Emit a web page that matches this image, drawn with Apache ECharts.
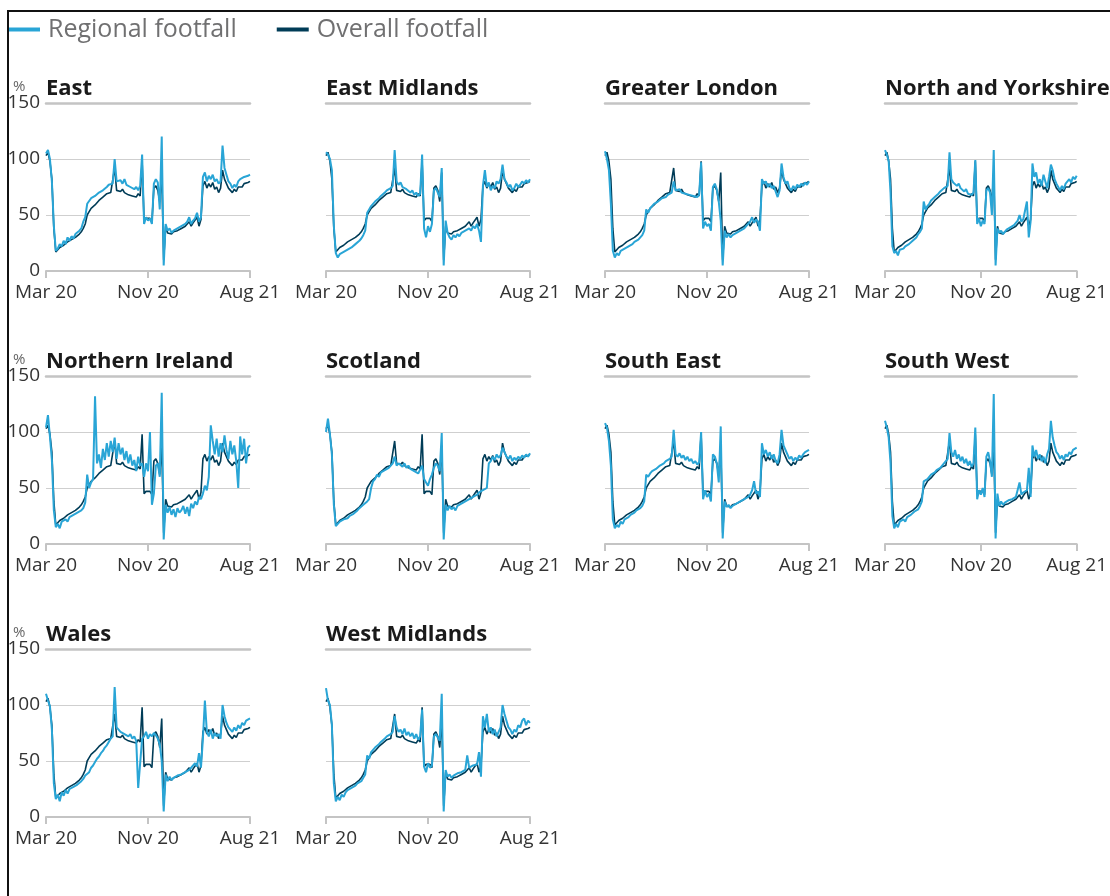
<!DOCTYPE html>
<html><head><meta charset="utf-8">
<script src="https://cdn.jsdelivr.net/npm/echarts/dist/echarts.min.js"></script>
<style>
html,body{margin:0;padding:0;background:#fff;overflow:hidden;}
#chart{position:absolute;left:0;top:0;width:1110px;height:896px;}
#frame{position:absolute;left:7px;top:10px;width:1120px;height:900px;border-top:2px solid #111;border-left:2px solid #111;pointer-events:none;}
</style>
</head><body><div id="chart"></div><div id="frame"></div>
<script>
// Panel titles
const regions = ['East','East Midlands','Greater London','North and Yorkshire','Northern Ireland','Scotland','South East','South West','Wales','West Midlands'];
// x tick labels (first, middle, last sample)
const tickLabels = ['Mar 20','Nov 20','Aug 21'];
const seriesNames = ['Regional footfall','Overall footfall'];

// Values: % of pre-pandemic footfall, one reading every 5 days from start of March 2020
const overall = [103,106,98,82,38,17,19,21,20,23,22,26,25,28,27,30,30,33,35,38,42,50,53,56,57,59,61,63,63,66,67,69,70,70,71,92,72,73,71,73,70,70,68,69,67,68,66,69,67,98,45,47,46,47,44,74,76,72,62,88,10,40,34,35,33,35,34,36,36,38,37,40,41,44,40,43,44,48,40,46,76,80,74,78,75,79,73,75,70,74,90,82,78,74,72,70,73,71,75,76,75,78,77,79,80];
const east = [105,108,100,80,40,18,20,24,22,27,24,30,27,31,29,33,32,36,38,44,48,60,61,65,64,67,68,70,69,72,73,75,77,76,78,100,80,79,81,78,82,77,78,75,76,73,75,72,76,104,42,48,45,47,42,78,82,79,55,120,5,42,36,38,34,36,35,38,37,40,39,42,44,48,42,45,47,52,44,48,84,88,80,85,82,86,80,82,78,80,112,92,86,80,78,74,77,75,80,82,81,84,83,85,86];
const eastMidlands = [106,104,100,90,40,16,12,15,14,17,16,19,18,21,20,24,23,27,29,32,36,52,55,58,60,62,61,65,67,66,70,72,71,74,76,108,80,77,79,75,76,73,74,70,72,68,70,67,69,104,38,30,40,35,42,72,74,70,66,92,5,45,34,30,28,32,30,33,31,34,33,36,35,38,36,40,38,42,36,26,76,90,75,79,72,76,74,80,78,82,95,82,79,75,77,72,74,78,75,77,80,78,81,79,82];
const greaterLondon = [107,100,90,60,18,12,16,14,18,17,20,19,22,21,24,26,25,28,30,32,36,55,52,56,58,60,59,62,63,65,64,66,68,67,70,80,72,71,73,70,71,69,70,68,69,67,68,66,68,97,38,44,40,42,36,75,78,73,62,45,5,36,30,33,30,32,31,34,33,36,35,38,40,42,44,48,43,46,44,36,82,78,80,75,78,74,76,71,66,72,96,84,78,80,74,72,76,73,77,75,78,76,79,77,80];
const northYorkshire = [108,104,98,70,22,16,18,14,19,18,20,22,21,24,23,27,26,30,33,35,38,62,55,58,60,63,62,66,67,69,71,72,74,73,76,106,82,79,80,76,78,74,75,71,73,69,70,68,70,99,42,47,40,45,42,72,74,70,50,108,5,38,34,36,33,35,37,36,39,38,41,42,45,50,44,46,47,62,30,44,96,84,88,78,82,76,86,80,74,84,95,90,82,78,75,72,76,73,78,80,82,79,84,82,85];
const northernIreland = [104,115,96,75,30,15,18,14,20,19,22,20,24,23,26,25,28,27,30,32,37,62,50,55,58,132,72,80,68,85,75,90,78,92,82,95,76,90,80,86,75,83,72,80,70,75,65,78,70,72,60,72,65,100,35,45,70,72,60,135,4,35,28,33,26,31,24,32,28,30,34,27,33,25,36,32,38,35,42,40,45,52,48,60,106,92,80,94,78,90,82,97,84,76,92,80,88,74,50,96,80,94,72,86,88];
const scotland = [100,112,98,80,35,16,18,20,19,22,21,23,25,24,27,28,30,32,31,35,34,38,40,50,56,58,62,60,64,63,66,65,68,70,72,78,70,72,71,69,72,68,70,67,68,65,66,63,64,70,58,55,52,58,62,68,72,70,65,99,4,35,30,34,31,33,30,34,33,36,35,38,37,40,39,42,41,44,46,45,48,47,50,72,74,78,75,80,77,79,86,82,78,76,79,74,77,75,78,76,79,77,80,78,81];
const southEast = [108,104,92,70,22,14,17,15,20,18,22,21,24,26,25,28,30,29,32,34,38,62,60,63,65,64,67,68,70,69,72,74,73,76,78,102,80,78,81,77,79,75,78,74,76,72,74,71,73,100,40,48,42,45,38,80,78,72,55,105,5,38,33,35,32,34,33,36,35,38,37,40,39,42,44,48,56,45,47,42,90,80,84,78,82,76,80,74,72,80,102,88,84,80,76,78,74,77,75,79,77,80,82,81,84];
const southWest = [110,104,95,72,25,14,18,15,20,19,22,20,24,23,26,25,29,28,31,34,38,56,55,58,60,62,61,64,66,65,68,70,72,74,76,99,82,78,84,76,80,74,78,72,76,70,74,69,72,104,40,48,44,50,42,78,82,74,60,134,5,45,34,38,35,37,36,39,38,40,39,42,41,55,44,46,45,48,68,42,88,78,84,76,80,74,78,72,80,85,110,95,88,82,80,76,79,75,80,78,82,80,84,83,86];
const wales = [110,104,99,78,30,16,20,14,22,19,24,21,25,24,27,26,29,30,32,34,37,38,40,44,46,49,52,54,57,59,62,64,67,70,72,116,80,78,76,77,74,75,72,74,70,72,68,26,25,70,72,76,70,74,72,75,73,70,65,50,5,38,32,36,33,35,34,37,36,38,37,40,39,42,44,46,48,45,57,44,70,104,76,72,78,70,75,72,74,70,100,90,84,80,78,76,80,77,82,79,84,82,86,85,88];
const westMidlands = [115,104,100,82,30,14,18,15,20,18,22,24,23,26,25,28,30,29,32,35,38,55,52,58,60,62,61,65,67,66,70,72,71,74,76,90,80,76,78,74,79,73,76,72,75,70,74,69,72,96,45,40,48,44,46,72,74,71,68,110,5,42,36,38,35,37,36,39,38,40,39,42,55,44,43,46,45,47,58,36,90,80,92,76,80,74,78,72,76,80,100,92,86,80,78,74,78,76,82,80,86,88,82,86,84];

const regional = [east,eastMidlands,greaterLondon,northYorkshire,northernIreland,scotland,southEast,southWest,wales,westMidlands];

const FONT = '"Open Sans", "Noto Sans", sans-serif';
const LIGHT = '#29a5d6', DARK = '#003c57';
const colLeft = [46, 326, 605, 885];
const rowTop = [103, 376, 649];
const lastIdx = overall.length - 1;
const mid = lastIdx / 2;

const grids = [], xAxes = [], yAxes = [], series = [], titles = [], graphics = [];
regions.forEach((name, p) => {
  const col = p % 4, row = Math.floor(p / 4);
  grids.push({left: colLeft[col], top: rowTop[row], width: 204, height: 168});
  xAxes.push({
    gridIndex: p, type: 'value', min: 0, max: lastIdx, interval: mid,
    axisLine: {show: true, lineStyle: {color: '#c4c4c4', width: 2}},
    axisTick: {show: true, length: 7, lineStyle: {color: '#c4c4c4', width: 2}},
    axisLabel: {show: true, margin: 12, fontSize: 19, color: '#333', fontFamily: FONT,
      showMinLabel: true, showMaxLabel: true,
      formatter: v => tickLabels[Math.round(v / mid)]},
    splitLine: {show: false}
  });
  xAxes.push({
    gridIndex: p, type: 'value', min: 0, max: lastIdx, position: 'top',
    axisLine: {show: true, lineStyle: {color: '#c4c4c4', width: 2.5}},
    axisTick: {show: false}, axisLabel: {show: false}, splitLine: {show: false}
  });
  yAxes.push({
    gridIndex: p, type: 'value', min: 0, max: 150, interval: 50,
    axisLine: {show: false}, axisTick: {show: false},
    axisLabel: {show: col === 0, fontSize: 19, color: '#333', margin: 6, fontFamily: FONT},
    splitLine: {show: true, lineStyle: {color: '#cfcfcf', width: 1}}
  });
  titles.push({text: name, left: colLeft[col], top: rowTop[row] - 25, padding: 0,
    textStyle: {fontSize: 22, fontWeight: 'bold', color: '#1a1a1a', fontFamily: FONT}});
  if (col === 0) {
    graphics.push({type: 'text', left: 13, top: rowTop[row] - 24,
      style: {text: '%', fontSize: 15, fill: '#666', fontFamily: FONT}});
  }
  series.push({name: seriesNames[1], type: 'line', xAxisIndex: 2 * p, yAxisIndex: p,
    data: overall.map((v, i) => [i, v]), showSymbol: false, symbol: 'none',
    lineStyle: {color: DARK, width: 1.6}, itemStyle: {color: DARK}, z: 2});
  series.push({name: seriesNames[0], type: 'line', xAxisIndex: 2 * p, yAxisIndex: p,
    data: regional[p].map((v, i) => [i, v]), showSymbol: false, symbol: 'none',
    lineStyle: {color: LIGHT, width: 2}, itemStyle: {color: LIGHT}, z: 3});
});

const chart = echarts.init(document.getElementById('chart'), null, {renderer: 'canvas'});
chart.setOption({
  animation: false,
  backgroundColor: '#fff',
  title: titles,
  legend: {top: 17, left: 8, padding: 0, itemWidth: 32, itemHeight: 4, itemGap: 40, icon: 'rect',
    textStyle: {fontSize: 25, color: '#707071', fontFamily: FONT, padding: [0, 0, 0, 3]},
    data: seriesNames},
  grid: grids, xAxis: xAxes, yAxis: yAxes, series: series, graphic: graphics
});
</script></body></html>
